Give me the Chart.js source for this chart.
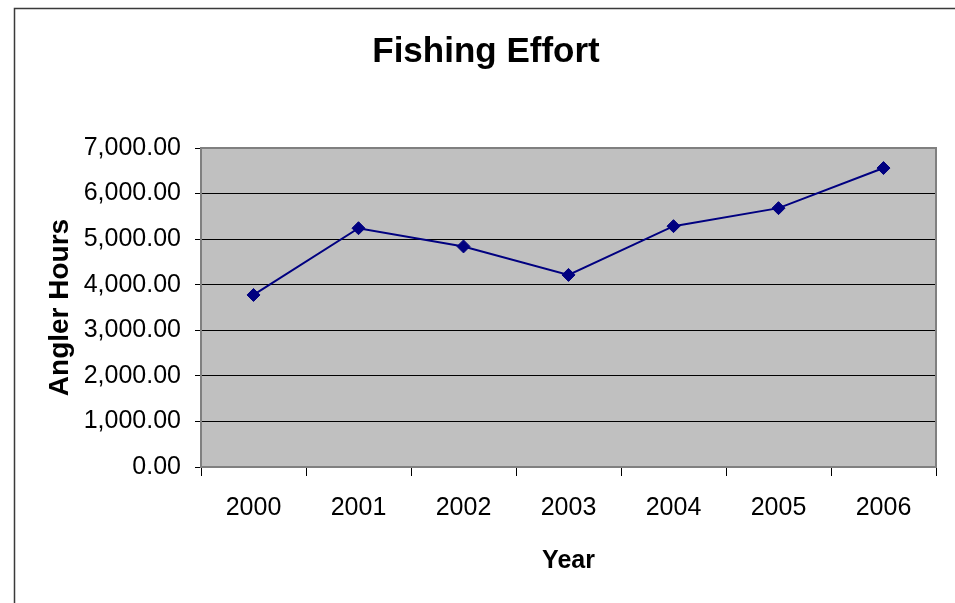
<!DOCTYPE html>
<html>
<head>
<meta charset="utf-8">
<script src="https://cdn.jsdelivr.net/npm/chart.js@4/dist/chart.umd.min.js"></script>
<style>
  html, body { margin: 0; padding: 0; background: #fff; }
  #wrap { width: 955px; height: 603px; position: relative; }
</style>
</head>
<body>
<div id="wrap"><canvas id="c" width="955" height="603"></canvas></div>
<script>
const chartTitle = 'Fishing Effort';
const xAxisTitle = 'Year';
const yAxisTitle = 'Angler Hours';
const years = ['2000', '2001', '2002', '2003', '2004', '2005', '2006'];
const anglerHours = [3775, 5240, 4840, 4215, 5285, 5680, 6560];
const yMin = 0;
const yMax = 7000;
const yStep = 1000;

const FONT = "'Liberation Sans', Arial, sans-serif";

const frameAndPlot = {
  id: 'frameAndPlot',
  afterLayout(chart) {
    // centre the title over the whole framed chart, not just the layout box
    if (chart.titleBlock) {
      chart.titleBlock.left = 17;
      chart.titleBlock.right = 955;
    }
  },
  beforeDraw(chart) {
    const ctx = chart.ctx;
    const a = chart.chartArea;
    ctx.save();
    ctx.fillStyle = '#C0C0C0';
    ctx.fillRect(a.left, a.top, a.right - a.left, a.bottom - a.top);
    ctx.strokeStyle = '#3a3a3a';
    ctx.lineWidth = 1.5;
    ctx.beginPath();
    ctx.moveTo(14.5, chart.height);
    ctx.lineTo(14.5, 8.5);
    ctx.lineTo(chart.width, 8.5);
    ctx.stroke();
    ctx.restore();
  },
  beforeDatasetsDraw(chart) {
    const ctx = chart.ctx;
    const a = chart.chartArea;
    ctx.save();
    ctx.strokeStyle = '#808080';
    ctx.lineWidth = 2;
    ctx.beginPath();
    ctx.moveTo(a.left, a.top);
    ctx.lineTo(a.right, a.top);
    ctx.lineTo(a.right, a.bottom);
    ctx.stroke();
    ctx.restore();
  }
};

new Chart(document.getElementById('c'), {
  type: 'line',
  data: {
    labels: years,
    datasets: [{
      label: yAxisTitle,
      data: anglerHours,
      borderColor: '#000080',
      backgroundColor: '#000080',
      borderWidth: 2,
      pointStyle: 'rectRot',
      pointRadius: 6.5,
      pointBorderWidth: 1,
      pointBackgroundColor: '#000080',
      pointBorderColor: '#000080',
      tension: 0,
      fill: false
    }]
  },
  options: {
    responsive: false,
    animation: false,
    devicePixelRatio: 1,
    layout: { padding: { left: 0, top: 0, right: 19, bottom: 0 } },
    plugins: {
      legend: { display: false },
      tooltip: { enabled: false },
      title: {
        display: true,
        text: chartTitle,
        color: '#000',
        font: { family: FONT, size: 35, weight: 'bold', lineHeight: 1.2 },
        padding: { top: 31, bottom: 75 }
      }
    },
    scales: {
      x: {
        type: 'category',
        offset: true,
        afterFit(scale) { scale.height = 136; },
        grid: {
          offset: true,
          drawOnChartArea: false,
          drawTicks: true,
          tickLength: 9,
          tickColor: '#000',
          tickWidth: 1,
          color: '#000'
        },
        border: { display: true, color: '#808080', width: 2 },
        ticks: {
          color: '#000',
          padding: 17,
          maxRotation: 0,
          font: { family: FONT, size: 25 }
        },
        title: {
          display: true,
          text: xAxisTitle,
          color: '#000',
          font: { family: FONT, size: 25, weight: 'bold', lineHeight: 1.2 },
          padding: { top: 0, bottom: 27 }
        }
      },
      y: {
        min: yMin,
        max: yMax,
        afterFit(scale) { scale.width = 201; },
        grid: {
          color: (ctx) => (ctx.tick && (ctx.tick.value === yMax || ctx.tick.value === yMin)) ? '#808080' : '#000',
          lineWidth: 1,
          drawTicks: true,
          tickLength: 6,
          tickColor: '#000',
          tickWidth: 1
        },
        border: { display: true, color: '#808080', width: 2 },
        ticks: {
          stepSize: yStep,
          color: '#000',
          padding: 14,
          font: { family: FONT, size: 25 },
          callback: (v) => Number(v).toLocaleString('en-US', { minimumFractionDigits: 2, maximumFractionDigits: 2 })
        },
        title: {
          display: true,
          text: yAxisTitle,
          color: '#000',
          font: { family: FONT, size: 28, weight: 'bold', lineHeight: 1.2 },
          padding: { top: 43, bottom: 0 }
        }
      }
    }
  },
  plugins: [frameAndPlot]
});
</script>
</body>
</html>
